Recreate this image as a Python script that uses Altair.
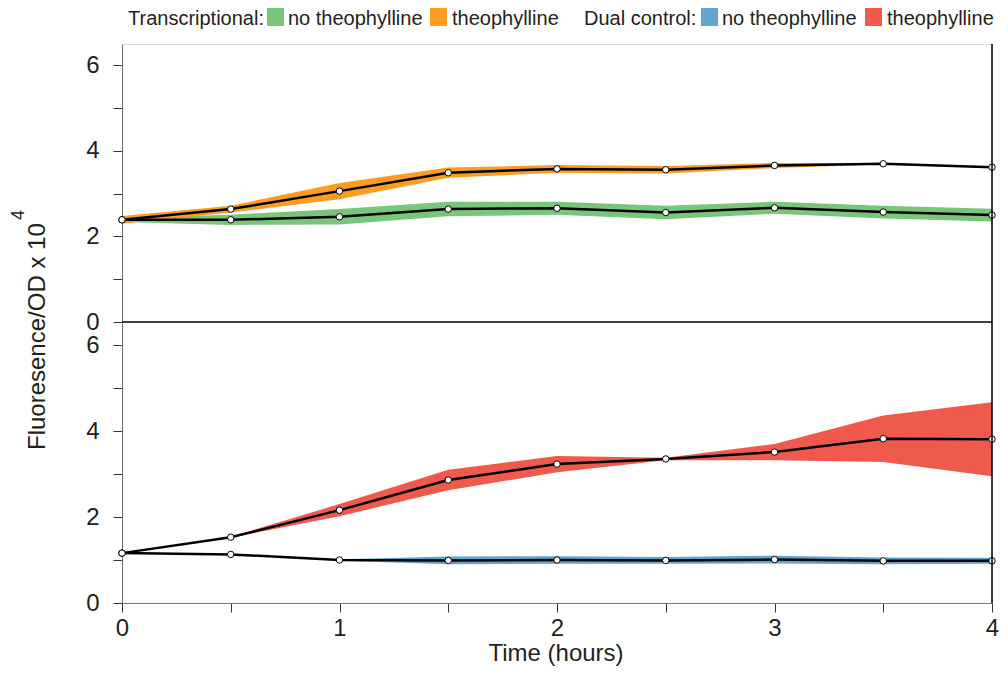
import altair as alt
import pandas as pd

# ---------------- data ----------------
time = [0, 0.5, 1, 1.5, 2, 2.5, 3, 3.5, 4]

trans_no = [2.39, 2.39, 2.46, 2.64, 2.66, 2.56, 2.67, 2.57, 2.50]
trans_no_err = [0.05, 0.12, 0.18, 0.17, 0.15, 0.16, 0.14, 0.15, 0.15]
trans_theo = [2.39, 2.64, 3.06, 3.49, 3.58, 3.56, 3.66, 3.70, 3.62]
trans_theo_err = [0.09, 0.08, 0.19, 0.12, 0.09, 0.09, 0.06, 0.02, 0.02]

dual_no = [1.16, 1.13, 1.00, 0.99, 1.00, 0.99, 1.01, 0.98, 0.98]
dual_no_err = [0.0, 0.01, 0.02, 0.09, 0.09, 0.08, 0.09, 0.08, 0.07]
dual_theo = [1.16, 1.53, 2.16, 2.86, 3.23, 3.35, 3.51, 3.82, 3.81]
dual_theo_err = [0.0, 0.01, 0.14, 0.24, 0.19, 0.03, 0.19, 0.54, 0.86]

x_ticks = [0, 0.5, 1, 1.5, 2, 2.5, 3, 3.5, 4]
y_ticks = [0, 1, 2, 3, 4, 5, 6]

GREEN = "#78c679"
ORANGE = "#fd9c20"
BLUE = "#62a5cf"
RED = "#ef5a4d"
FONT = "Liberation Sans"
TXT = "#231f20"

W = 870          # plot width
H_TOP = 278      # upper panel height
GAP = 1.5
H = 559          # whole plot height (both panels)


def frame(mean, err, name):
    return pd.DataFrame({
        "time": time,
        "mean": mean,
        "lo": [m - e for m, e in zip(mean, err)],
        "hi": [m + e for m, e in zip(mean, err)],
        "series": name,
    })


one = alt.Data(values=[{"k": 1}])

xscale = alt.Scale(domain=[0, 4], nice=False, zero=False)
x_axis = alt.Axis(
    values=x_ticks,
    labelExpr="datum.value % 1 == 0 ? format(datum.value, 'd') : ''",
    title=None, grid=False, tickSize=9, labelPadding=4, labelFontSize=24,
    labelFont=FONT, labelColor=TXT, domainColor="#777777",
    tickColor="#333333", labelOverlap=False, labelFlush=False,
)
X = alt.X("time:Q", scale=xscale, axis=x_axis)


def y_axis():
    return alt.Axis(
        orient="left", values=y_ticks,
        labelExpr="datum.value % 2 == 0 ? format(datum.value, 'd') : ''",
        title=None, grid=False, tickSize=9, labelPadding=14, labelFontSize=24,
        labelFont=FONT, labelColor=TXT, domainColor="#666666", tickColor="#333333",
        labelOverlap=False, labelFlush=False,
    )


def panel(df_a, col_a, df_b, col_b, y_range):
    ys = alt.Scale(domain=[0, 6.5], range=y_range, nice=False, zero=False)
    band_a = alt.Chart(df_a).mark_area(color=col_a, opacity=1).encode(
        x=X, y=alt.Y("lo:Q", scale=ys, axis=y_axis()), y2="hi:Q")
    band_b = alt.Chart(df_b).mark_area(color=col_b, opacity=1).encode(
        x=X, y=alt.Y("lo:Q", scale=ys), y2="hi:Q")
    both = pd.concat([df_a, df_b])
    line = alt.Chart(both).mark_line(color="black", strokeWidth=2.5).encode(
        x=X, y=alt.Y("mean:Q", scale=ys), detail="series:N")
    pts = alt.Chart(both).mark_point(
        filled=True, fill="white", stroke="black", strokeWidth=1, size=42, opacity=1
    ).encode(x=X, y=alt.Y("mean:Q", scale=ys), detail="series:N")
    return alt.layer(band_a, band_b, line, pts)


def label(text, x, y, size=20, angle=0, align="left"):
    kw = dict(text=text, font=FONT, fontSize=size, align=align,
              baseline="alphabetic", color=TXT)
    if angle:
        kw["angle"] = angle
    return alt.Chart(one).mark_text(**kw).encode(x=alt.value(x), y=alt.value(y))


def swatch(color, x):
    return alt.Chart(one).mark_rect(color=color).encode(
        x=alt.value(x), x2=alt.value(x + 17), y=alt.value(-36), y2=alt.value(-18))


df_tn = frame(trans_no, trans_no_err, "trans_no")
df_tt = frame(trans_theo, trans_theo_err, "trans_theo")
df_dn = frame(dual_no, dual_no_err, "dual_no")
df_dt = frame(dual_theo, dual_theo_err, "dual_theo")

top = panel(df_tn, GREEN, df_tt, ORANGE, [H_TOP, 0])
bottom = panel(df_dn, BLUE, df_dt, RED, [H, H_TOP + GAP])

middle_line = alt.Chart(one).mark_rule(color="black", strokeWidth=1.5).encode(
    x=alt.value(0), x2=alt.value(W), y=alt.value(H_TOP))
right_border = alt.Chart(one).mark_rule(color="black", strokeWidth=1.5).encode(
    x=alt.value(W), y=alt.value(0), y2=alt.value(H))

decor = [
    middle_line, right_border,
    # legend
    label("Transcriptional:", 6, -19), swatch(GREEN, 145),
    label("no theophylline", 166, -19), swatch(ORANGE, 308),
    label("theophylline", 330, -19),
    label("Dual control:", 462, -19), swatch(BLUE, 579),
    label("no theophylline", 600, -19), swatch(RED, 743),
    label("theophylline", 765, -19),
    # axis titles
    label("Fluoresence/OD x 10", -77, 406, size=24, angle=270),
    label("4", -98, 176, size=18, angle=270),
    label("Time (hours)", 434, 617, size=24, align="center"),
]

chart = alt.layer(top, bottom, *decor).resolve_scale(y="independent").properties(
    width=W, height=H,
    autosize=alt.AutoSizeParams(type="none"),
    padding={"left": 114, "top": 36, "right": 8, "bottom": 64},
).configure_view(stroke=None).configure(background="white")

chart.save("out.html", embed_options={"renderer": "svg", "actions": False})
